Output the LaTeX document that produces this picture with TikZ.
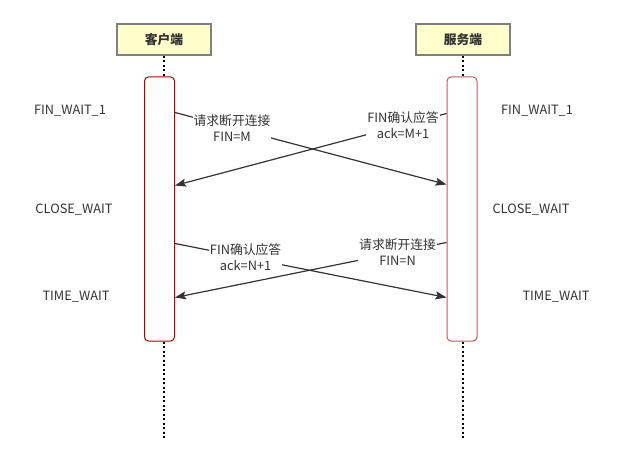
\documentclass[tikz,border=0pt]{standalone}
\usepackage{fontspec}
\setmainfont{Noto Sans CJK SC}
\usetikzlibrary{arrows.meta}
\definecolor{hdrfill}{HTML}{FFFFCC}
\definecolor{hdrline}{HTML}{7F7F7F}
\definecolor{cred}{HTML}{B20000}
\definecolor{sred}{HTML}{C25A5A}
\definecolor{txt}{HTML}{333333}
\begin{document}
\begin{tikzpicture}[x=1pt,y=-1pt,
  header/.style={draw=hdrline,line width=1.5pt,fill=hdrfill,minimum width=94pt,minimum height=31pt,
    font=\fontsize{12.8}{14}\selectfont\bfseries,text=txt},
  actbar/.style={draw=#1,line width=1pt,fill=white,rounded corners=4pt,minimum width=30pt,minimum height=264pt,inner sep=0pt},
  lifeline/.style={line width=2pt,dash pattern=on 2pt off 2.5pt},
  msg/.style={draw=txt,line width=1.2pt,-{Stealth[length=11pt,width=8pt,inset=2pt]}},
  msglabel/.style={fill=white,inner sep=1pt,align=center,text=txt,font=\fontsize{12.8}{16}\selectfont},
  state/.style={text=txt,font=\fontsize{12.8}{14}\selectfont}]
\useasboundingbox (0,0) rectangle (631,465);
% heads and lifelines
\node[header] (client) at (164,39.5) {客户端};
\node[header] (server) at (463,39.5) {服务端};
\node[actbar=cred] (cbar) at (159.5,209) {};
\node[actbar=sred] (sbar) at (462,209) {};
\coordinate (cend) at (164,438);
\coordinate (send) at (463,438);
\draw[lifeline] (client.south) -- (client.south |- cbar.north);
\draw[lifeline] (client.south |- cbar.south) -- (cend);
\draw[lifeline] (server.south) -- (server.south |- sbar.north);
\draw[lifeline] (server.south |- sbar.south) -- (send);
% messages
\draw[msg] ([yshift=-36pt]cbar.north east) -- node[msglabel,pos=0.21] {请求断开连接\\FIN=M} ([yshift=-108pt]sbar.north west);
\draw[msg] ([yshift=-37pt]sbar.north west) -- node[msglabel,pos=0.16] {FIN确认应答\\ack=M+1} ([yshift=-109pt]cbar.north east);
\draw[msg] ([yshift=-167pt]cbar.north east) -- node[msglabel,pos=0.26] {FIN确认应答\\ack=N+1} ([yshift=-221pt]sbar.north west);
\draw[msg] ([yshift=-166pt]sbar.north west) -- node[msglabel,pos=0.18] {请求断开连接\\FIN=N} ([yshift=-221pt]cbar.north east);
% states
\node[state] (c1) at (70,111) {FIN\_WAIT\_1};
\node[state] (c2) at (74,210) {CLOSE\_WAIT};
\node[state] (c3) at (76,297) {TIME\_WAIT};
\node[state] (s1) at (537,111) {FIN\_WAIT\_1};
\node[state] (s2) at (531,210) {CLOSE\_WAIT};
\node[state] (s3) at (556,297) {TIME\_WAIT};
\end{tikzpicture}
\end{document}
